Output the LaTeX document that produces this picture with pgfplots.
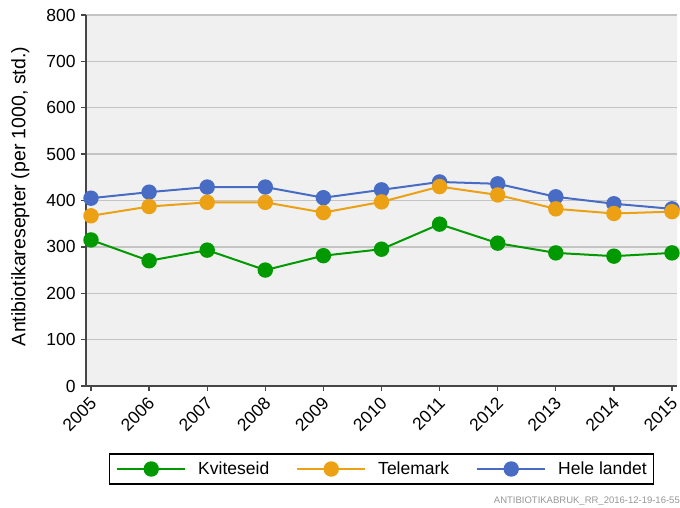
\documentclass[border=0pt]{standalone}
\usepackage{pgfplots}
\pgfplotsset{compat=1.18}
\usepackage{fontspec}
\setmainfont{Liberation Sans}
\definecolor{cgreen}{RGB}{0,154,0}
\definecolor{corange}{RGB}{236,160,20}
\definecolor{cblue}{RGB}{72,108,196}
\definecolor{bg}{RGB}{240,240,240}
\definecolor{gridc}{RGB}{196,196,196}
\definecolor{axc}{RGB}{70,70,70}
\definecolor{wm}{RGB}{150,150,150}

\pgfplotstableread{
year kvi tel hele
2005 315 367 405
2006 270 387 418
2007 293 396 429
2008 250 396 429
2009 281 374 406
2010 295 397 423
2011 349 430 440
2012 308 412 436
2013 287 382 408
2014 280 372 393
2015 287 376 382
}\data

\begin{document}
\begin{tikzpicture}
\begin{axis}[
  at={(86bp,-386bp)}, anchor=south west,
  scale only axis, width=591bp, height=371bp,
  xmin=2004.914, xmax=2015.086, ymin=0, ymax=800,
  clip=false,
  axis x line=bottom, axis y line=left,
  axis line style={-, draw=axc, line width=1.3bp},
  axis background/.style={fill=bg},
  xtick={2005,2006,...,2015}, ytick={0,100,...,800},
  ymajorgrids, grid style={draw=gridc, line width=1.4bp},
  tick align=outside, major tick length=5bp,
  tick style={draw=axc, line width=1.3bp},
  /pgf/number format/assume math mode=true,
  /pgf/number format/1000 sep={},
  tick label style={font=\fontsize{17.5bp}{21bp}\selectfont},
  yticklabel style={xshift=-2bp},
  xticklabel style={rotate=45, anchor=north east, inner sep=1bp, xshift=-4bp, yshift=-1bp},
  ylabel={Antibiotikaresepter (per 1000, std.)},
  ylabel style={at={(axis description cs:-0.111,0.511)}, anchor=center, font=\fontsize{19.5bp}{23bp}\selectfont},
  reverse legend,
  legend cell align=left,
  legend style={at={(0.5,-0.2237)}, anchor=center, legend columns=3,
    draw=black, line width=1.3bp, fill=white,
    inner xsep=7bp, inner ysep=8bp,
    nodes={inner sep=0pt, font=\fontsize{17.5bp}{21bp}\selectfont},
    /tikz/every odd column/.style={column sep=12bp},
    /tikz/every even column/.style={column sep=27bp}},
  legend image code/.code={\draw[mark repeat=2, mark phase=2, #1] plot coordinates {(0bp,0bp) (34bp,0bp) (68bp,0bp)};},
]
\addplot[cblue, line width=2bp, mark=*, mark size=6.7bp, mark options={draw=none, fill=cblue}] table[x=year, y=hele] {\data};
\addlegendentry{Hele landet}
\addplot[corange, line width=2bp, mark=*, mark size=6.7bp, mark options={draw=none, fill=corange}] table[x=year, y=tel] {\data};
\addlegendentry{Telemark}
\addplot[cgreen, line width=2bp, mark=*, mark size=6.7bp, mark options={draw=none, fill=cgreen}] table[x=year, y=kvi] {\data};
\addlegendentry{Kviteseid}
\end{axis}
\node[anchor=base east, text=wm, font=\fontsize{9.5bp}{11bp}\selectfont, inner sep=0pt] at (680bp,-503bp) {ANTIBIOTIKABRUK\_RR\_2016-12-19-16-55};
\pgfresetboundingbox
\useasboundingbox (0,0) rectangle (680bp,-508bp);
\end{tikzpicture}
\end{document}
